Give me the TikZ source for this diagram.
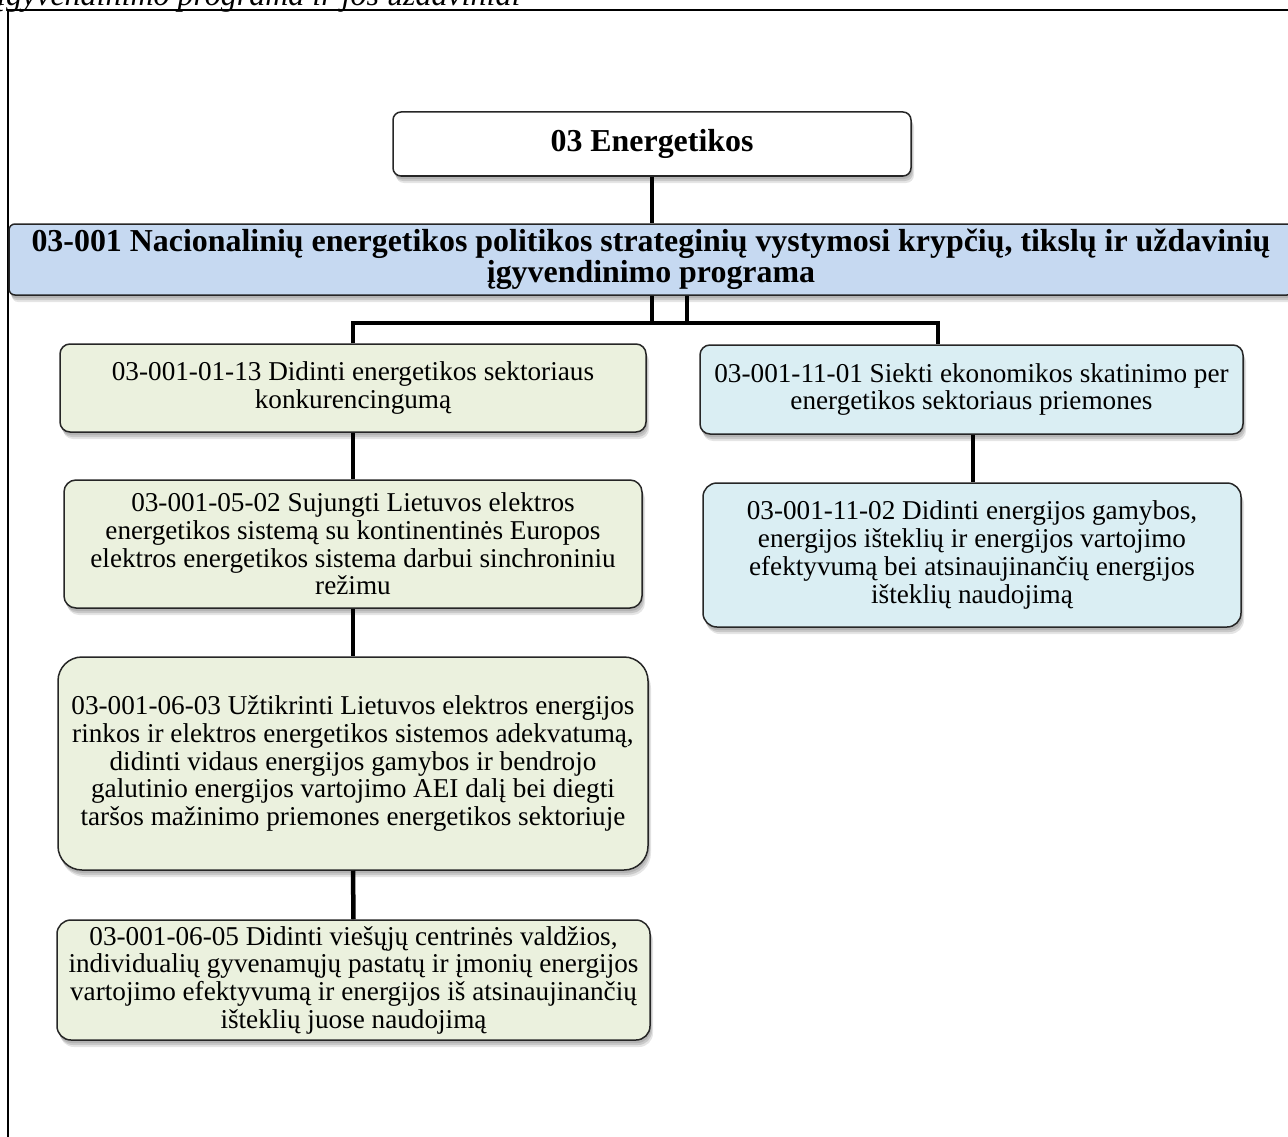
\documentclass[tikz,border=0pt]{standalone}
\usepackage{fontspec}
\setmainfont{Liberation Serif}
\usetikzlibrary{shadows}
\definecolor{olivebox}{HTML}{EBF1DE}
\definecolor{aquabox}{HTML}{DAEEF3}
\definecolor{progblue}{HTML}{C6D9F1}
\tikzset{
  softshadow/.style={
    general shadow={fill=black, opacity=0.10, shadow xshift=1pt, shadow yshift=-3pt},
    general shadow={fill=black, opacity=0.12, shadow xshift=2pt, shadow yshift=-5pt},
    general shadow={fill=black, opacity=0.10, shadow xshift=3pt, shadow yshift=-7pt}},
  boxbase/.style={draw=black!85, line width=1.5pt, align=center, inner sep=0pt,
    softshadow, font=\fontsize{27.2}{27.7}\selectfont},
  goalbox/.style={boxbase, fill=olivebox},
  taskbox/.style={boxbase, fill=aquabox},
  conn/.style={line width=4.5pt, draw=black},
}
\begin{document}
\begin{tikzpicture}[x=1pt,y=-1pt]
\useasboundingbox (0,0) rectangle (1288,1137);
\begin{scope}
\clip (0,0) rectangle (1288,1137);
\fill[white] (0,0) rectangle (1288,1137);
% frame
\draw[line width=2pt] (8,1145) -- (8,10) -- (1300,10);
% clipped caption
\node[anchor=base west, inner sep=0pt, font=\itshape\fontsize{32}{38}\selectfont] (cap) at (-3,6) {įgyvendinimo programa ir jos uždaviniai};
% nodes
\node[boxbase, fill=white, rounded corners=8pt, minimum width=518pt, minimum height=64pt,
  font=\bfseries\fontsize{31.9}{31}\selectfont] (top) at (652,144) {03 Energetikos};
\node[boxbase, fill=progblue, rounded corners=6pt, minimum width=1284pt, minimum height=71pt,
  font=\bfseries\fontsize{31.9}{31}\selectfont] (prog) at (651,259.5)
  {03-001 Nacionalinių energetikos politikos strateginių vystymosi krypčių, tikslų ir uždavinių\\ įgyvendinimo programa};
\node[goalbox, rounded corners=10pt, minimum width=586pt, minimum height=88pt] (L1) at (353,388)
  {03-001-01-13 Didinti energetikos sektoriaus\\ konkurencingumą};
\node[goalbox, rounded corners=12pt, minimum width=578pt, minimum height=128pt] (L2) at (353,544)
  {03-001-05-02 Sujungti Lietuvos elektros\\ energetikos sistemą su kontinentinės Europos\\ elektros energetikos sistema darbui sinchroniniu\\ režimu};
\node[goalbox, rounded corners=24pt, minimum width=590pt, minimum height=213pt] (L3) at (353,763.5)
  {03-001-06-03 Užtikrinti Lietuvos elektros energijos\\ rinkos ir elektros energetikos sistemos adekvatumą,\\ didinti vidaus energijos gamybos ir bendrojo\\ galutinio energijos vartojimo AEI dalį bei diegti\\ taršos mažinimo priemones energetikos sektoriuje};
\node[goalbox, rounded corners=14pt, minimum width=593pt, minimum height=120pt] (L4) at (353.5,980)
  {03-001-06-05 Didinti viešųjų centrinės valdžios,\\ individualių gyvenamųjų pastatų ir įmonių energijos\\ vartojimo efektyvumą ir energijos iš atsinaujinančių\\ išteklių juose naudojimą};
\node[taskbox, rounded corners=10pt, minimum width=543pt, minimum height=89pt] (R1) at (971.5,389.5)
  {03-001-11-01 Siekti ekonomikos skatinimo per\\ energetikos sektoriaus priemones};
\node[taskbox, rounded corners=14pt, minimum width=538pt, minimum height=144pt] (R2) at (972,555)
  {03-001-11-02 Didinti energijos gamybos,\\ energijos išteklių ir energijos vartojimo\\ efektyvumą bei atsinaujinančių energijos\\ išteklių naudojimą};
% bus coordinates
\coordinate (busL) at (353,323);
\coordinate (busR) at (938,323);
% connectors
\draw[conn] (top.south) -- (top.south |- prog.north);
\draw[conn] (top.south |- prog.south) -- (top.south |- busL);
\draw[conn] ([xshift=35pt]top.south |- prog.south) -- ([xshift=35pt]top.south |- busL);
\draw[conn] (L1.north) -- (busL) -- (busR) -- (busR |- R1.north);
\draw[conn] (L1.south) -- (L2.north);
\draw[conn] (L2.south) -- (L3.north);
\draw[conn] (L3.south) -- (L4.north);
\draw[conn] ([xshift=1.5pt]R1.south) -- ([xshift=1.5pt]R1.south |- R2.north);
\end{scope}
\end{tikzpicture}
\end{document}
